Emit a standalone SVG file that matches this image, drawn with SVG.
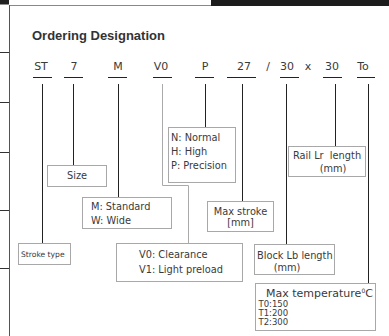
<svg xmlns="http://www.w3.org/2000/svg" width="389" height="336" viewBox="0 0 389 336">
<style>
.t{font-family:"DejaVu Sans","Liberation Sans",sans-serif;fill:#3a3a3a;}
.code{font-size:11px;text-anchor:middle;}
.lbl{font-size:9.8px;}
.box{fill:#fff;stroke:#a8a8a8;stroke-width:1;}
.ln{stroke:#222;stroke-width:1;fill:none;}
.gl{stroke:#aaa;stroke-width:1;fill:none;}
</style>
<g id="frame">
<rect x="0" y="0" width="9" height="4.5" fill="#222"/>
<line x1="9" y1="5.5" x2="211" y2="5.5" stroke="#888" stroke-width="1"/>
<rect x="211" y="0" width="178" height="6" fill="#1c1c1c"/>
<line x1="9.5" y1="5" x2="9.5" y2="336" stroke="#555" stroke-width="1"/>
<line x1="0" y1="52.5" x2="9" y2="52.5" stroke="#333"/>
<line x1="0" y1="102.5" x2="9" y2="102.5" stroke="#333"/>
<line x1="0" y1="152.5" x2="9" y2="152.5" stroke="#333"/>
<line x1="0" y1="210.5" x2="9" y2="210.5" stroke="#333"/>
<line x1="0" y1="268.5" x2="9" y2="268.5" stroke="#333"/>
</g>
<text x="32" y="40" style="font-family:'Liberation Sans',Arial,sans-serif;font-weight:bold;font-size:13px;fill:#333">Ordering Designation</text>
<g id="codes" class="t code">
<text x="41" y="70">ST</text>
<text x="74" y="70">7</text>
<text x="118" y="70">M</text>
<text x="161" y="70">V0</text>
<text x="205" y="70">P</text>
<text x="244" y="70">27</text>
<text x="268" y="70">/</text>
<text x="287" y="70">30</text>
<text x="308" y="70">x</text>
<text x="332" y="70">30</text>
<text x="363" y="70">To</text>
</g>
<g id="connectors">
<g class="ln">
<line x1="33" y1="77.5" x2="52" y2="77.5"/>
<line x1="64" y1="77.5" x2="83" y2="77.5"/>
<line x1="108" y1="77.5" x2="127" y2="77.5"/>
<line x1="153" y1="77.5" x2="172" y2="77.5"/>
<line x1="195" y1="77.5" x2="214" y2="77.5"/>
<line x1="227" y1="77.5" x2="256" y2="77.5"/>
<line x1="280" y1="77.5" x2="299" y2="77.5"/>
<line x1="323" y1="77.5" x2="342" y2="77.5"/>
<line x1="357" y1="77.5" x2="375" y2="77.5"/>
<line x1="42.5" y1="84" x2="42.5" y2="243"/>
<line x1="73.5" y1="84" x2="73.5" y2="165"/>
<line x1="118.5" y1="84" x2="118.5" y2="197"/>
<line x1="205.5" y1="84" x2="205.5" y2="127"/>
<line x1="242.5" y1="84" x2="242.5" y2="201"/>
<line x1="286.5" y1="84" x2="286.5" y2="244"/>
<line x1="335.5" y1="84" x2="335.5" y2="146"/>
<line x1="368.5" y1="84" x2="368.5" y2="283"/>
</g>
<polyline class="gl" points="162.5,84 162.5,185.5 188.5,185.5 188.5,243"/>
</g>
<g id="n-size">
<rect class="box" x="47.5" y="165.5" width="59" height="21"/>
<text class="t lbl" x="77" y="179" text-anchor="middle">Size</text>
</g>
<g id="n-width">
<rect class="box" x="82.5" y="197.5" width="89" height="31"/>
<text class="t lbl" x="91" y="210">M: Standard</text>
<text class="t lbl" x="91" y="223.5">W: Wide</text>
</g>
<g id="n-stroke">
<rect class="box" x="18.5" y="243.5" width="52" height="21"/>
<text class="t" x="21" y="257" style="font-size:7.6px">Stroke type</text>
</g>
<g id="n-accuracy">
<rect class="box" x="168.5" y="127.5" width="67" height="55"/>
<text class="t lbl" x="171" y="140.5">N: Normal</text>
<text class="t lbl" x="171" y="154.5">H: High</text>
<text class="t lbl" x="171" y="168.5">P: Precision</text>
</g>
<g id="n-preload">
<rect class="box" x="116.5" y="243.5" width="126" height="38"/>
<text class="t lbl" x="139" y="257.5">V0: Clearance</text>
<text class="t lbl" x="139" y="273">V1: Light preload</text>
</g>
<g id="n-maxstroke">
<rect class="box" x="207.5" y="201.5" width="66" height="30"/>
<text class="t lbl" x="240.5" y="214.5" text-anchor="middle">Max stroke</text>
<text class="t lbl" x="240.5" y="226" text-anchor="middle">[mm]</text>
</g>
<g id="n-rail">
<rect class="box" x="288.5" y="146.5" width="77" height="30"/>
<text class="t lbl" x="293" y="159" xml:space="preserve">Rail Lr  length</text>
<text class="t lbl" x="333" y="172" text-anchor="middle">(mm)</text>
</g>
<g id="n-block">
<rect class="box" x="254.5" y="244.5" width="80" height="30"/>
<text class="t lbl" x="257" y="258.5">Block Lb length</text>
<text class="t lbl" x="287" y="270.5" text-anchor="middle">(mm)</text>
</g>
<g id="n-temp">
<rect class="box" x="255.5" y="283.5" width="120" height="47"/>
<text class="t" x="266" y="296.5" style="font-size:11px">Max temperature<tspan dy="-4" style="font-size:6px">0</tspan><tspan dy="4">C</tspan></text>
<text class="t" x="258.5" y="306.5" style="font-size:8.5px">T0:150</text>
<text class="t" x="258.5" y="315.5" style="font-size:8.5px">T1:200</text>
<text class="t" x="258.5" y="324.5" style="font-size:8.5px">T2:300</text>
</g>
</svg>
